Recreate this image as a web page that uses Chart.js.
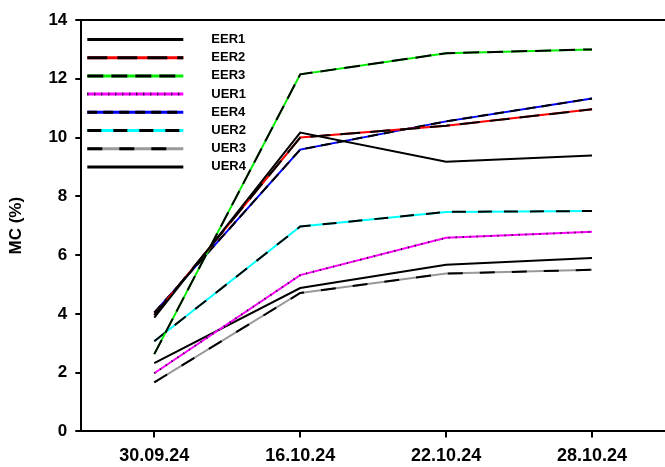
<!DOCTYPE html>
<html>
<head>
<meta charset="UTF-8">
<title>MC</title>
<script src="https://cdn.jsdelivr.net/npm/chart.js"></script>
<style>
  html, body { margin: 0; padding: 0; background: #fff; }
  #wrap { width: 665px; height: 467px; }
</style>
</head>
<body>
<div id="wrap"><canvas id="mc"></canvas></div>
<script>
const dates = ['30.09.24', '16.10.24', '22.10.24', '28.10.24'];
const yTicks = [0, 2, 4, 6, 8, 10, 12, 14];

const EER1 = [3.87, 10.17, 9.18, 9.39];
const EER2 = [3.96, 10.0, 10.4, 10.96];
const EER3 = [2.63, 12.15, 12.87, 13.0];
const UER1 = [1.98, 5.32, 6.59, 6.79];
const EER4 = [4.04, 9.59, 10.55, 11.33];
const UER2 = [3.07, 6.97, 7.47, 7.5];
const UER3 = [1.67, 4.71, 5.37, 5.5];
const UER4 = [2.32, 4.88, 5.67, 5.9];

// colour under the line + black dash pattern on top (null = plain black)
const series = [
  { label: 'EER1', data: EER1, color: null,      dash: null },
  { label: 'EER2', data: EER2, color: '#ff0000', dash: [20, 10] },
  { label: 'EER3', data: EER3, color: '#00ee00', dash: [16, 8] },
  { label: 'UER1', data: UER1, color: '#ff00ff', dash: [1, 6] },
  { label: 'EER4', data: EER4, color: '#0000ff', dash: [10, 6] },
  { label: 'UER2', data: UER2, color: '#00ffff', dash: [14, 12] },
  { label: 'UER3', data: UER3, color: '#999999', dash: [15, 17] },
  { label: 'UER4', data: UER4, color: null,      dash: null }
];

const datasets = [];
series.forEach((s, i) => {
  if (s.color) {
    datasets.push({
      label: s.label + '_base', data: s.data, borderColor: s.color,
      borderWidth: 2, pointRadius: 0, tension: 0, order: 2 * i + 1
    });
  }
  datasets.push({
    label: s.label, data: s.data, borderColor: '#000',
    borderDash: s.dash || [], borderWidth: 2, pointRadius: 0, tension: 0,
    order: 2 * i
  });
});

// legend with two-colour samples, like the original
const sampleLegend = {
  id: 'sampleLegend',
  afterDraw(chart) {
    const ctx = chart.ctx;
    const a = chart.chartArea;
    const x0 = a.left + 6, x1 = a.left + 102;
    ctx.save();
    series.forEach((s, i) => {
      const y = a.top + 19.5 + i * 18.2;
      ctx.lineWidth = 3;
      if (s.color) {
        ctx.setLineDash([]);
        ctx.strokeStyle = s.color;
        ctx.beginPath(); ctx.moveTo(x0, y); ctx.lineTo(x1, y); ctx.stroke();
      }
      ctx.setLineDash(s.dash || []);
      ctx.strokeStyle = '#000';
      ctx.beginPath(); ctx.moveTo(x0, y); ctx.lineTo(x1, y); ctx.stroke();
      ctx.setLineDash([]);
      ctx.fillStyle = '#000';
      ctx.font = 'bold 13px "Liberation Sans", Arial, sans-serif';
      ctx.textBaseline = 'middle';
      ctx.fillText(s.label, a.left + 130, y);
    });
    ctx.restore();
  }
};

Chart.defaults.font.family = '"Liberation Sans", Arial, sans-serif';
Chart.defaults.font.weight = 'bold';
Chart.defaults.color = '#000';

new Chart(document.getElementById('mc'), {
  type: 'line',
  data: { labels: dates, datasets },
  options: {
    responsive: true,
    maintainAspectRatio: false,
    animation: false,
    layout: { padding: { top: 20, right: 0, left: 6, bottom: -8 } },
    plugins: { legend: { display: false }, tooltip: { enabled: false } },
    scales: {
      x: {
        type: 'category',
        offset: true,
        grid: { display: true, drawOnChartArea: false, drawTicks: true, tickLength: 6, color: '#000', lineWidth: 2, offset: false },
        border: { color: '#000', width: 2 },
        ticks: { font: { size: 18, weight: 'bold' }, padding: 8, maxRotation: 0 }
      },
      x2: {
        type: 'category',
        position: 'top',
        offset: true,
        grid: { display: false, drawTicks: false },
        border: { display: true, color: '#000', width: 2 },
        ticks: { display: false }
      },
      y: {
        min: 0, max: 14,
        afterBuildTicks: axis => { axis.ticks = yTicks.map(v => ({ value: v })); },
        grid: { display: true, drawOnChartArea: false, drawTicks: true, tickLength: 6, color: '#000', lineWidth: 2 },
        border: { color: '#000', width: 2 },
        ticks: { font: { size: 17, weight: 'bold' }, padding: 8 },
        title: { display: true, text: 'MC (%)', font: { size: 17, weight: 'bold' }, padding: { top: 0, bottom: 14 } }
      }
    }
  },
  plugins: [sampleLegend]
});
</script>
</body>
</html>
